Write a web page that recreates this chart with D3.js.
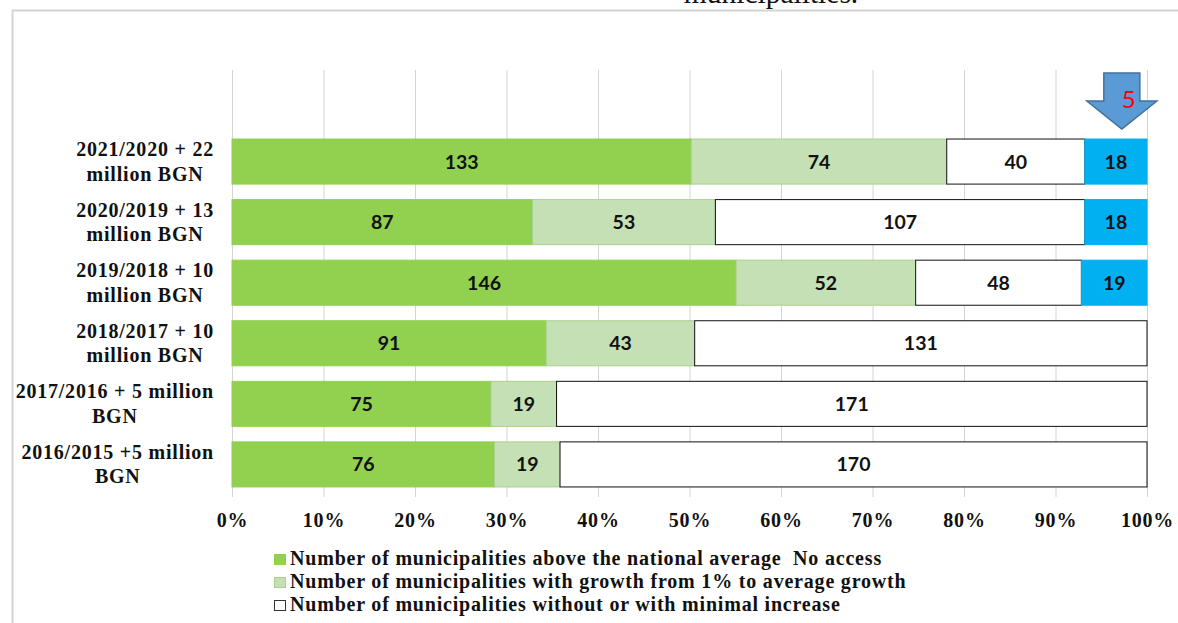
<!DOCTYPE html>
<html>
<head>
<meta charset="utf-8">
<script src="https://cdnjs.cloudflare.com/ajax/libs/d3/7.8.5/d3.min.js"></script>
<style>
  html, body { margin: 0; padding: 0; background: #fff; overflow: hidden; }
  .serif { font-family: "Liberation Serif", serif; font-weight: bold; fill: #111; }
  .num { font-family: Lato, sans-serif; font-weight: bold; font-size: 19.5px; fill: #111; }
  .axis path { display: none; }
  .axis line { stroke: #d4d4d4; stroke-width: 1; }
</style>
</head>
<body>
<div id="chart"></div>
<script>
// top to bottom, the first row is empty in the original
var categories = ["", "2021/2020 + 22 million BGN", "2020/2019 + 13 million BGN", "2019/2018 + 10 million BGN",
  "2018/2017 + 10 million BGN", "2017/2016 + 5 million BGN", "2016/2015 +5 million BGN"];
var catLines = [[], ["2021/2020 + 22", "million BGN"], ["2020/2019 + 13", "million BGN"], ["2019/2018 + 10", "million BGN"],
  ["2018/2017 + 10", "million BGN"], ["2017/2016 + 5 million", "BGN"], ["2016/2015 +5 million", "BGN"]];

var aboveAverage = [0, 133, 87, 146, 91, 75, 76];
var withGrowth = [0, 74, 53, 52, 43, 19, 19];
var minimalIncrease = [0, 40, 107, 48, 131, 171, 170];
var noAccess = [0, 18, 18, 19, 0, 0, 0];

var seriesKeys = ["above", "growth", "minimal", "none"];
var seriesFill = ["#92d050", "#c5e0b4", "#ffffff", "#00b0f0"];
var seriesStroke = ["#92d050", "#a9d18e", "#111111", "#00b0f0"];

var legendLabels = ["Number of municipalities above the national average  No access",
  "Number of municipalities with growth from 1% to average growth",
  "Number of municipalities without or with minimal increase"];

var svgWidth = 1178;
var svgHeight = 623;
var margin = { top: 70, right: 31, bottom: 129, left: 232 };
var width = svgWidth - margin.left - margin.right;
var height = svgHeight - margin.top - margin.bottom;

var svg = d3.select("#chart").append("svg")
  .attr("width", svgWidth)
  .attr("height", svgHeight)
  .style("display", "block");

// frame of the page the chart was pasted in
svg.append("path")
  .attr("d", "M12.5,623V10.5H1178")
  .attr("fill", "none")
  .attr("stroke", "#d4d4d4")
  .attr("stroke-width", 2);

// cut off title line
svg.append("text")
  .attr("x", 771).attr("y", 3)
  .attr("text-anchor", "middle")
  .style("font-family", "Liberation Serif, serif")
  .style("font-size", "29.5px")
  .style("fill", "#111")
  .text("municipalities.");

var chartGroup = svg.append("g")
  .attr("transform", `translate(${margin.left}, ${margin.top})`);

var rows = categories.map(function(c, i) {
  return { cat: c, above: aboveAverage[i], growth: withGrowth[i], minimal: minimalIncrease[i], none: noAccess[i] };
});

var stacked = d3.stack().keys(seriesKeys).offset(d3.stackOffsetExpand)(rows);

var x = d3.scaleLinear().domain([0, 1]).range([0, width]);
var y = d3.scaleBand().domain(categories).range([0.7, height + 0.7]).paddingInner(0.256).paddingOuter(0.128);

// axis + gridlines
var axis = chartGroup.append("g")
  .attr("class", "axis")
  .attr("transform", `translate(0, ${height})`)
  .call(d3.axisBottom(x).tickValues(d3.range(0, 1.01, 0.1)).tickFormat(d3.format(".0%")).tickSize(-height - 1).tickPadding(0));
axis.selectAll("line").attr("y2", null).attr("y1", 3).attr("y2", -height);
axis.selectAll("text")
  .attr("class", "serif")
  .attr("y", 32.5)
  .attr("dy", 0)
  .style("font-size", "20px")
  .style("letter-spacing", "0.8px");

// bars
var layers = chartGroup.selectAll(".layer")
  .data(stacked)
  .enter().append("g")
  .attr("class", "layer");

layers.selectAll("rect")
  .data(function(s, i) { return s.filter(d => d[1] > d[0]).map(d => ({ d: d, i: i })); })
  .enter().append("rect")
  .attr("x", o => x(o.d[0]))
  .attr("y", o => y(o.d.data.cat))
  .attr("width", o => x(o.d[1]) - x(o.d[0]))
  .attr("height", y.bandwidth())
  .attr("fill", o => seriesFill[o.i])
  .attr("stroke", o => seriesStroke[o.i])
  .attr("stroke-width", 1);

layers.selectAll("text")
  .data(function(s) { return s.filter(d => d[1] > d[0]).map(d => ({ d: d, key: s.key })); })
  .enter().append("text")
  .attr("class", "num")
  .attr("x", o => x((o.d[0] + o.d[1]) / 2))
  .attr("y", o => y(o.d.data.cat) + y.bandwidth() / 2 + 7)
  .attr("text-anchor", "middle")
  .text(o => o.d.data[o.key]);

// category labels, lines centred inside a right aligned block
categories.forEach(function(c, i) {
  var g = chartGroup.append("g");
  var lines = g.selectAll("text")
    .data(catLines[i])
    .enter().append("text")
    .attr("class", "serif")
    .attr("text-anchor", "middle")
    .attr("y", (d, k) => y(c) + y.bandwidth() / 2 - 5.5 + k * 24.5)
    .style("font-size", "20px")
    .style("letter-spacing", "0.78px")
    .text(d => d);
  var w = d3.max(lines.nodes(), n => n.getComputedTextLength());
  lines.attr("x", -18 - w / 2);
});

// arrow with the 5 over the last bar
var arrowX = x(0.9725);
var arrowG = chartGroup.append("g").attr("transform", `translate(${arrowX}, 0)`);
arrowG.append("path")
  .attr("d", "M-18,3H18V31H35L0,59L-35,31H-18Z")
  .attr("fill", "#5b9bd5")
  .attr("stroke", "#41719c")
  .attr("stroke-width", 1.5);
arrowG.append("text")
  .attr("x", 7).attr("y", 38)
  .attr("text-anchor", "middle")
  .style("font-family", "Lato, sans-serif")
  .style("font-size", "24px")
  .style("fill", "#ff0000")
  .text("5");

// legend
var legend = svg.selectAll(".legend")
  .data(legendLabels)
  .enter().append("g")
  .attr("class", "legend")
  .attr("transform", (d, i) => `translate(274, ${560 + i * 23})`);

legend.append("rect")
  .attr("x", 0.5).attr("y", -5.5)
  .attr("width", 11).attr("height", 10)
  .attr("fill", (d, i) => seriesFill[i])
  .attr("stroke", (d, i) => i == 2 ? "#333" : seriesStroke[i]);

legend.append("text")
  .attr("class", "serif")
  .attr("x", 16).attr("y", 5)
  .style("font-size", "20px")
  .style("letter-spacing", "0.8px")
  .style("white-space", "pre")
  .text(d => d);
</script>
</body>
</html>
